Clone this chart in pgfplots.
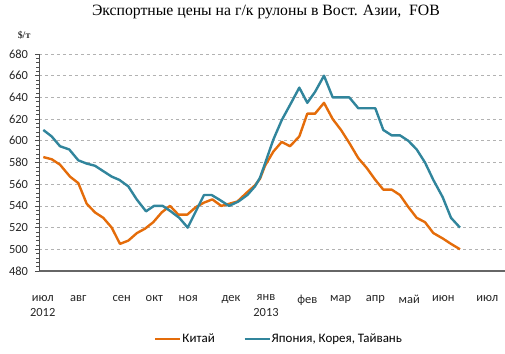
\documentclass[border=0pt]{standalone}
\usepackage{pgfplots}
\pgfplotsset{compat=1.18}
\usepackage{fontspec}
\setmainfont{Carlito}
\newfontfamily\titlefont{Liberation Serif}
\definecolor{cnorange}{HTML}{E46C0A}
\definecolor{jpteal}{HTML}{31859C}
\begin{document}
\begin{tikzpicture}
\useasboundingbox (0,0) rectangle (505bp,354bp);
\begin{axis}[
  at={(39bp,83bp)}, anchor=south west,
  scale only axis, width=466bp, height=217bp,
  xmin=39, xmax=505, ymin=480, ymax=680,
  ytick={480,500,...,680}, minor y tick num=4,
  axis x line*=bottom, axis y line*=left,
  x axis line style={-, draw=black!60, line width=1.6bp},
  y axis line style={-, draw=black!70, line width=0.8bp},
  tick align=outside,
  major tick length=3.5bp, minor tick length=2.5bp,
  every tick/.style={black!70, line width=0.6bp},
  xtick style={draw=none},
  ymajorgrids,
  major grid style={dashed, black!30, line width=0.6bp},
  /pgf/number format/assume math mode=true,
  yticklabel style={font=\fontsize{12.5}{14}\selectfont, text=black!85, xshift=-4bp},
  xtick={42.7,78.3,121.7,154.3,188.3,231,266,307.3,340.7,375.3,409.3,443.3,487.3},
  xticklabels={{июл\\2012},авг,сен,окт,ноя,дек,{янв\\2013},фев,мар,апр,май,июн,июл},
  xticklabel style={align=center, anchor=north, yshift=-17bp, font=\fontsize{12.5}{15.5}\selectfont, text=black!85},
  title={\titlefont Экспортные цены на г/к рулоны в Вост. Азии,\ \ FOB},
  title style={at={(0.487,1.166)}, anchor=center, font=\fontsize{15.8}{17}\selectfont},
  legend style={at={(0.514,-0.313)}, anchor=center, draw=none, fill=none,
    legend columns=2, font=\fontsize{13}{15}\selectfont,
    nodes={inner xsep=0.8bp},
    /tikz/every even column/.append style={column sep=28bp}},
  legend image code/.code={\draw[#1] (0bp,0bp) -- (25bp,0bp);},
  clip=false,
]
\addplot[cnorange, line width=2.4bp, line join=round] coordinates {
(43.3,585)(51.7,583)(60,578)(70,567)(78.3,561)(86.7,542)(95,534)(103.3,529)(111.7,520)(120,505)(128.3,508)(137,515)(145,519)(153.3,525)(161.7,534)(170,540)(178.3,532)(187.3,532)(196,539)(204,543)(212.3,546)(221.3,540)(229.3,542)(237.3,544)(246.5,552)(255,559)(260,565)(265,577)(273.3,590)(281.7,599)(290,595)(299.3,604)(307.3,625)(315,625)(324,635)(332.7,620)(341,610)(349.3,598)(358.3,584)(366.7,575)(375.3,564)(383.3,555)(391.7,555)(400,550)(408.3,539)(416.7,529)(425,525)(433.3,515)(442.7,510)(451,505)(460,500)
};
\addlegendentry{Китай}
\addplot[jpteal, line width=2.4bp, line join=round] coordinates {
(43.3,610)(51.7,604)(60,595)(69.3,592)(78.3,582)(86.7,579)(95,577)(103.3,572)(111.7,567)(119.3,564)(128.3,558)(136.7,546)(146,535)(154,540)(162.7,540)(170.7,535)(179.3,529)(187.7,520)(204,550)(211.7,550)(220.7,545)(229,540)(238.3,544)(247.3,550)(255,558)(260,566)(265,579)(273.3,601)(281.7,619)(290,633)(299.3,649)(307.3,635)(315,645)(324,660)(332.7,640)(349.3,640)(358.3,630)(375.3,630)(383.3,610)(391.7,605)(400,605)(408.3,600)(416.7,592)(425,580)(433.3,564)(442.7,548)(451,529)(460,520)
};
\addlegendentry{Япония, Корея, Тайвань}
\node[font=\titlefont\bfseries\fontsize{10}{12}\selectfont, text=black!80] at (rel axis cs:-0.032,1.088) {\$/т};
\end{axis}
\end{tikzpicture}
\end{document}
